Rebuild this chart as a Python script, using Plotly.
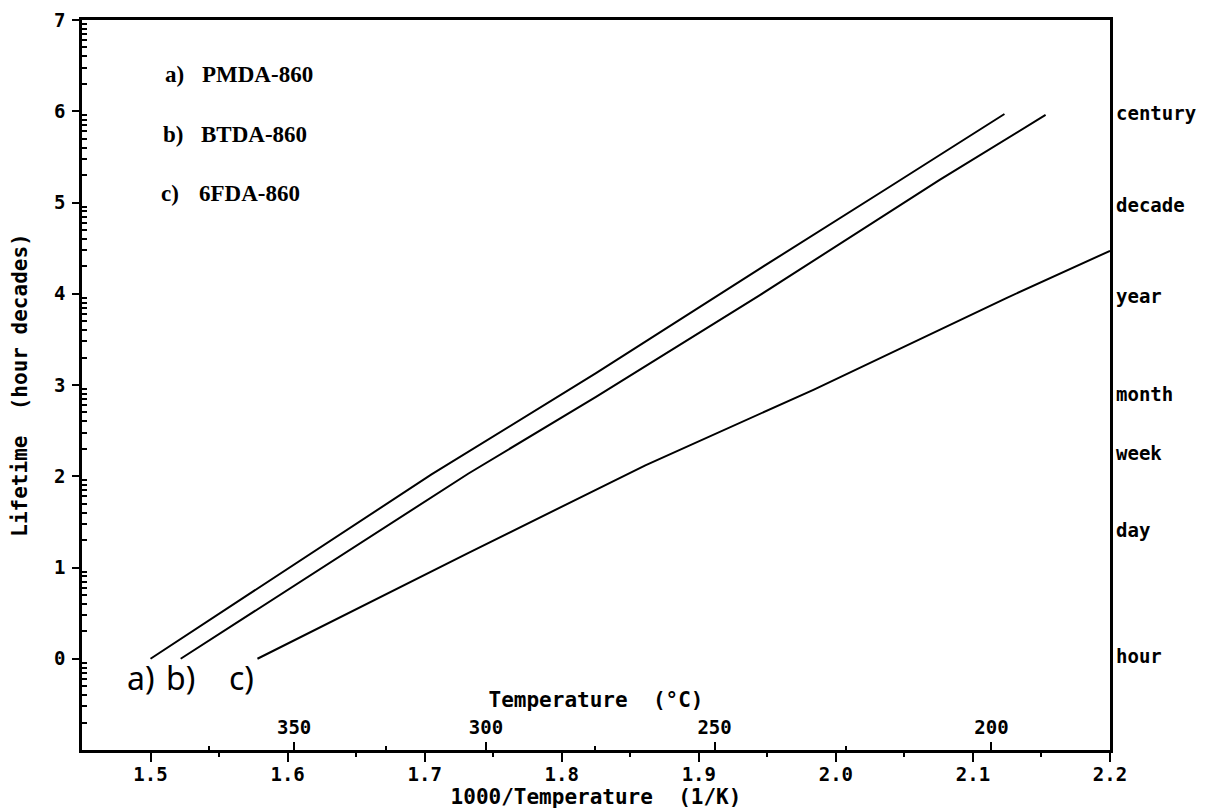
import math
import plotly.graph_objects as go

# ---- data ----
x_a = [1.500, 1.625, 1.705, 1.825, 1.944, 2.039, 2.123]
y_a = [0.00, 1.23, 2.02, 3.13, 4.27, 5.17, 5.97]

x_b = [1.522, 1.732, 1.825, 1.944, 2.076, 2.153]
y_b = [0.00, 2.03, 2.87, 3.98, 5.25, 5.96]

x_c = [1.578, 1.732, 1.861, 1.984, 2.124, 2.200]
y_c = [0.00, 1.16, 2.12, 2.95, 3.95, 4.47]

series_names = ["PMDA-860", "BTDA-860", "6FDA-860"]
series_tags = ["a)", "b)", "c)"]

x_ticks = [1.5, 1.6, 1.7, 1.8, 1.9, 2.0, 2.1, 2.2]
y_ticks = [0, 1, 2, 3, 4, 5, 6, 7]

temp_major = [350, 300, 250, 200]
temp_minor = [375, 325, 275, 225]

time_units = ["hour", "day", "week", "month", "year", "decade", "century"]
time_hours = [1, 24, 168, 730, 8766, 87660, 876600]

X_RANGE = [1.45, 2.2]
Y_RANGE = [-1, 7]

MONO = "DejaVu Sans Mono"
SERIF = "Liberation Serif"


def inv_t(tc):
    return 1000.0 / (tc + 273.15)


fig = go.Figure()
for xs, ys in [(x_a, y_a), (x_b, y_b), (x_c, y_c)]:
    fig.add_trace(go.Scatter(x=xs, y=ys, mode="lines",
                             line=dict(color="black", width=2),
                             showlegend=False, hoverinfo="skip"))
# invisible trace bound to the temperature axis
fig.add_trace(go.Scatter(x=[X_RANGE[0], X_RANGE[1]], y=[None, None], xaxis="x2",
                         mode="lines", showlegend=False, hoverinfo="skip"))

y_minor = []
for d in range(-1, 7):
    for k in range(2, 10):
        y_minor.append(d + math.log10(k))

x_minor = [1.55, 1.65, 1.75, 1.85, 1.95, 2.05, 2.15]

tickfont = dict(family=MONO, size=19, color="black", weight="bold")
titlefont = dict(family=MONO, size=21, color="black", weight="bold")

fig.update_layout(
    width=1201, height=802,
    margin=dict(l=74, r=99, t=12, b=60, autoexpand=False),
    paper_bgcolor="white", plot_bgcolor="white",
    xaxis=dict(range=X_RANGE, tickmode="array", tickvals=x_ticks,
               ticktext=[f"{v:.1f}" for v in x_ticks], automargin=False,
               ticks="outside", ticklen=9, tickwidth=2, tickcolor="black",
               ticklabelstandoff=-4,
               showline=True, linewidth=2.5, linecolor="black", mirror=True,
               showgrid=False, zeroline=False, tickfont=tickfont,
               minor=dict(tickmode="array", tickvals=x_minor, ticks="outside",
                          ticklen=4, tickwidth=2, tickcolor="black"),
               title=dict(text="1000/Temperature  (1/K)", font=titlefont, standoff=0)),
    xaxis2=dict(range=X_RANGE, overlaying="x", side="top", anchor="free", position=0,
                tickmode="array", tickvals=[inv_t(t) for t in temp_major],
                ticktext=[str(t) for t in temp_major], automargin=False,
                ticks="outside", ticklen=8, tickwidth=2, tickcolor="black",
                showline=False, showgrid=False, zeroline=False, tickfont=tickfont,
                minor=dict(tickmode="array", tickvals=[inv_t(t) for t in temp_minor],
                           ticks="outside", ticklen=4, tickwidth=2, tickcolor="black"),
                title=dict(text="Temperature  (°C)", font=titlefont, standoff=2)),
    yaxis=dict(range=Y_RANGE, tickmode="array", tickvals=y_ticks,
               ticktext=[str(v) for v in y_ticks], automargin=False,
               ticks="outside", ticklen=7, tickwidth=2, tickcolor="black",
               ticklabelstandoff=3,
               showline=True, linewidth=2.5, linecolor="black", mirror=True,
               showgrid=False, zeroline=False, tickfont=tickfont,
               minor=dict(tickmode="array", tickvals=y_minor, ticks="inside",
                          ticklen=5, tickwidth=1.5, tickcolor="black"),
               title=dict(text="Lifetime  (hour decades)", font=titlefont, standoff=26)),
)

# right-hand time scale labels
for name, hrs in zip(time_units, time_hours):
    fig.add_annotation(x=1, xref="paper", xanchor="left", xshift=4,
                       y=math.log10(hrs), yref="y", yanchor="middle", yshift=3,
                       text=name, showarrow=False,
                       font=dict(family=MONO, size=19, color="black", weight="bold"))

# legend text block (upper left)
legend_y = [6.40, 5.74, 5.10]
tag_x = [1.5090, 1.5075, 1.5060]
name_x = [1.5360, 1.5350, 1.5340]
for tag, nm, yy, tx, nx in zip(series_tags, series_names, legend_y, tag_x, name_x):
    fig.add_annotation(x=tx, y=yy, xref="x", yref="y", xanchor="left", yanchor="middle",
                       text=tag, showarrow=False,
                       font=dict(family=SERIF, size=23, color="black", weight="bold"))
    fig.add_annotation(x=nx, y=yy, xref="x", yref="y", xanchor="left", yanchor="middle",
                       text=nm, showarrow=False,
                       font=dict(family=SERIF, size=23, color="black", weight="bold"))

# curve tags near the start of each curve
curve_tag_x = [1.4927, 1.5215, 1.566]
for tag, cx in zip(series_tags, curve_tag_x):
    fig.add_annotation(x=cx, y=-0.20, xref="x", yref="y", xanchor="center", yanchor="middle",
                       text=tag, showarrow=False,
                       font=dict(family="Noto Sans", size=32, color="black"))

fig.write_html("out.html")
